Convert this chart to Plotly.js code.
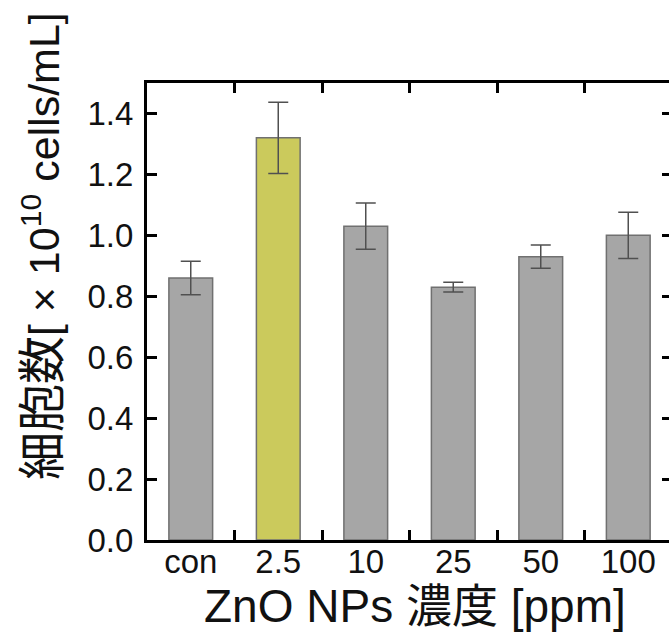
<!DOCTYPE html>
<html>
<head>
<meta charset="utf-8">
<script src="https://cdn.plot.ly/plotly-3.0.1.min.js"></script>
<style>
html,body{margin:0;padding:0;overflow:hidden;background:#fff;}
#chart{width:680px;height:632px;}
</style>
</head>
<body>
<div id="chart"></div>
<script>
// Data
const categories = ['con', '2.5', '10', '25', '50', '100'];
const cellCounts = [0.86, 1.32, 1.03, 0.83, 0.93, 1.00];
const cellErrors = [0.055, 0.117, 0.076, 0.016, 0.038, 0.076];
const yTickValues = [0, 0.2, 0.4, 0.6, 0.8, 1.0, 1.2, 1.4];
const xTitleText = 'ZnO NPs 濃度 [ppm]';
const yTitleKanji = '細胞数';
const yTitleUnit = '[ × 10<sup>10</sup> cells/mL]';

const highlightIndex = 1;
const barColors = categories.map((c, i) => i === highlightIndex ? '#cbca5c' : '#a6a6a6');

const FONT = '"Liberation Sans", Arial, "Noto Sans CJK JP", sans-serif';

const trace = {
  type: 'bar',
  x: categories,
  y: cellCounts,
  width: 0.5,
  marker: {color: barColors, line: {color: '#707070', width: 1.5}},
  error_y: {type: 'data', array: cellErrors, visible: true, color: '#505050', thickness: 1.5, width: 10},
  hoverinfo: 'x+y'
};

const layout = {
  width: 680,
  height: 632,
  margin: {l: 147, r: 8, t: 83, b: 92},
  paper_bgcolor: '#fff',
  plot_bgcolor: '#fff',
  showlegend: false,
  font: {family: FONT, color: '#111', size: 33},
  xaxis: {
    type: 'category',
    range: [-0.5, 5.5],
    showline: true, linecolor: '#000', linewidth: 3, mirror: 'ticks',
    ticks: 'inside', ticklen: 10, tickwidth: 3, tickcolor: '#000',
    tickson: 'boundaries',
    showgrid: false, zeroline: false,
    tickfont: {family: FONT, size: 33, color: '#111'},
    ticklabelstandoff: -10
  },
  yaxis: {
    range: [0, 1.5],
    tickvals: yTickValues,
    tickformat: '.1f',
    showline: true, linecolor: '#000', linewidth: 3, mirror: 'ticks',
    ticks: 'inside', ticklen: 10, tickwidth: 3, tickcolor: '#000',
    showgrid: false, zeroline: false,
    tickfont: {family: FONT, size: 33, color: '#111'},
    ticklabelstandoff: 4
  },
  annotations: [
    {
      text: xTitleText, xref: 'paper', yref: 'paper',
      x: 0.51, y: -0.144, xanchor: 'center', yanchor: 'middle',
      showarrow: false, font: {family: FONT, size: 46, color: '#111'}
    },
    {
      text: '<span style="font-size:48px">' + yTitleKanji + '</span>' + yTitleUnit,
      xref: 'paper', yref: 'paper',
      x: -0.202, y: 0.643, xanchor: 'center', yanchor: 'middle',
      textangle: -90,
      showarrow: false, font: {family: FONT, size: 43, color: '#111'}
    }
  ]
};

Plotly.newPlot('chart', [trace], layout, {displayModeBar: false, staticPlot: true});
</script>
</body>
</html>
